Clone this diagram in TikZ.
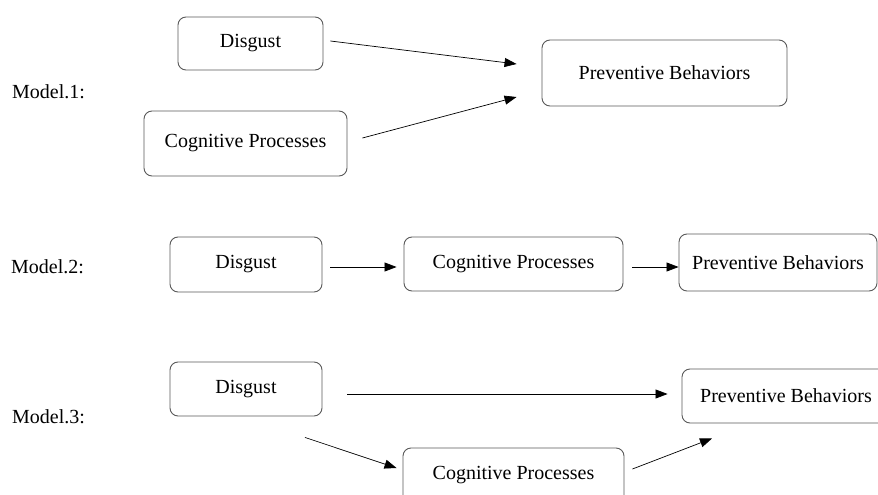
\documentclass[tikz,border=0pt]{standalone}
\usepackage{fontspec}
\setmainfont{Liberation Serif}
\usetikzlibrary{arrows.meta}
\begin{document}
\begin{tikzpicture}[x=1pt,y=-1pt,
  box/.style={draw=black!65,line width=0.9pt,rounded corners=8pt,inner sep=0pt,font=\fontsize{20}{22}\selectfont},
  lbl/.style={anchor=west,inner sep=0pt,font=\fontsize{20}{22}\selectfont},
  arr/.style={line width=0.7pt,-{Triangle[length=12pt,width=9pt]}}]
\clip (0,0) rectangle (878,495);
% Model 1
\node[lbl] (m1) at (12,92) {Model.1:};
\node[box,minimum width=145pt,minimum height=53pt] (d1) at (250.5,43.5) {Disgust};
\node[box,minimum width=203pt,minimum height=65pt] (c1) at (245.5,143.5) {Cognitive Processes};
\node[box,minimum width=245pt,minimum height=66pt] (p1) at (664.5,73) {Preventive Behaviors};
\draw[arr] ([xshift=7pt,yshift=2.5pt]d1.east) -- ([xshift=-25pt,yshift=9pt]p1.west);
\draw[arr] ([xshift=15pt,yshift=5.5pt]c1.east) -- ([xshift=-25pt,yshift=-24pt]p1.west);
% Model 2
\node[lbl] (m2) at (11,267) {Model.2:};
\node[box,minimum width=152pt,minimum height=55pt] (d2) at (246,264.5) {Disgust};
\node[box,minimum width=219pt,minimum height=54pt] (c2) at (513.5,264) {Cognitive Processes};
\node[box,minimum width=198pt,minimum height=57pt] (p2) at (778,262.5) {Preventive Behaviors};
\draw[arr] ([xshift=8pt,yshift=-2.5pt]d2.east) -- ([xshift=-7pt,yshift=-3pt]c2.west);
\draw[arr] ([xshift=9pt,yshift=-3pt]c2.east) -- ([xshift=0pt,yshift=-4.5pt]p2.west);
% Model 3
\node[lbl] (m3) at (12,417) {Model.3:};
\node[box,minimum width=152pt,minimum height=54pt] (d3) at (246,389) {Disgust};
\node[box,minimum width=208pt,minimum height=54pt] (p3) at (786,396) {Preventive Behaviors};
\node[box,minimum width=221pt,minimum height=55pt] (c3) at (513.5,475.5) {Cognitive Processes};
\draw[arr] ([xshift=25pt,yshift=-5pt]d3.east) -- ([xshift=-14pt,yshift=2pt]p3.west);
\draw[arr] ([xshift=59pt,yshift=-21pt]d3.south) -- ([xshift=-6pt,yshift=7.5pt]c3.west);
\draw[arr] ([xshift=8pt,yshift=6.5pt]c3.east) -- ([xshift=-74pt,yshift=-15pt]p3.south);
\end{tikzpicture}
\end{document}
